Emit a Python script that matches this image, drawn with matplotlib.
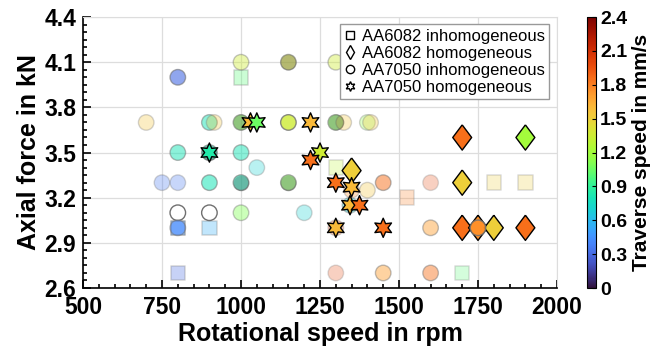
import numpy as np
import matplotlib
matplotlib.use("Agg")
import matplotlib.pyplot as plt
from matplotlib.lines import Line2D

plt.rcParams['font.family'] = ['Liberation Sans', 'DejaVu Sans']

# AA7050 inhomogeneous (circles)
circ_x = [800, 1000, 1150, 1300, 700, 900, 915, 1000, 1150, 1300, 1325, 1400, 1410,
          800, 900, 1000, 1050, 750, 800, 900, 1000, 1150, 1350, 1400, 1450, 1600,
          800, 900, 1000, 1200, 1345, 800, 1300, 1600, 1750, 1300, 1450, 1600]
circ_y = [4.0, 4.1, 4.1, 4.1, 3.7, 3.7, 3.7, 3.7, 3.7, 3.7, 3.7, 3.7, 3.7,
          3.5, 3.5, 3.5, 3.4, 3.3, 3.3, 3.3, 3.3, 3.3, 3.25, 3.25, 3.3, 3.3,
          3.1, 3.1, 3.1, 3.1, 3.15, 3.0, 3.0, 3.0, 3.0, 2.7, 2.7, 2.7]
circ_v = [0.3, 1.35, 1.4, 1.35, 1.55, 0.8, 1.55, 1.1, 1.35, 1.1, 1.55, 1.15, 1.55,
          0.8, 0.8, 0.8, 0.7, 0.35, 0.35, 0.8, 0.8, 1.1, 1.75, 1.55, 1.85, 2.0,
          np.nan, np.nan, 1.1, 0.7, 0.7, 0.4, 2.0, 1.7, 1.75, 2.0, 1.7, 1.85]
circ_a = [0.6, 0.4, 0.6, 0.4, 0.3, 0.5, 0.3, 0.6, 0.8, 0.6, 0.3, 0.3, 0.3,
          0.5, 0.6, 0.5, 0.3, 0.3, 0.3, 0.55, 0.6, 0.6, 0.3, 0.3, 0.5, 0.25,
          1.0, 1.0, 0.4, 0.3, 0.4, 0.5, 0.3, 0.45, 0.85, 0.25, 0.45, 0.45]
# circles that look darker (overlapping samples)
dark_x = [1150, 1000, 1300, 1000, 1150, 900]
dark_y = [4.1, 3.7, 3.7, 3.3, 3.3, 3.5]

# AA6082 inhomogeneous (squares)
sq_x = [1000, 1300, 1525, 1800, 1900, 1700, 800, 900, 800]
sq_y = [4.0, 3.4, 3.2, 3.3, 3.3, 2.7, 3.0, 3.0, 2.7]
sq_v = [1.0, 1.3, 1.8, 1.5, 1.5, 1.0, 0.45, 0.55, 0.3]
sq_a = [0.3, 0.25, 0.25, 0.25, 0.25, 0.25, 0.55, 0.3, 0.3]

# AA6082 homogeneous (diamonds)
dia_x = [1350, 1700, 1900, 1700, 1700, 1750, 1800, 1900]
dia_y = [3.38, 3.6, 3.6, 3.3, 3.0, 3.0, 3.0, 3.0]
dia_v = [1.5, 1.85, 1.2, 1.5, 1.85, 1.75, 1.5, 1.85]

# AA7050 homogeneous (stars)
star_x = [1030, 1050, 1220, 900, 1250, 1220, 1300, 1350, 1345, 1375, 1300, 1450]
star_y = [3.7, 3.7, 3.7, 3.5, 3.5, 3.45, 3.3, 3.27, 3.15, 3.15, 3.0, 3.0]
star_v = [1.6, 1.05, 1.6, 0.85, 1.35, 1.85, 1.85, 1.6, 1.6, 1.85, 1.6, 1.85]

cmap = matplotlib.colormaps['turbo'].copy()
cmap.set_bad('white')
norm = matplotlib.colors.Normalize(0, 2.4)

fig = plt.figure(figsize=(6.71, 3.56), dpi=100)
ax = fig.add_axes([0.1237, 0.191, 0.7064, 0.761])
cax = fig.add_axes([587 / 671, 0.191, 9 / 671, 0.761])

diamond = [(0, 1), (0.75, 0), (0, -1), (-0.75, 0), (0, 1)]
star6 = (6, 1, 0)

ax.scatter(sq_x, sq_y, c=sq_v, cmap=cmap, norm=norm, marker='s', s=110,
           alpha=sq_a, edgecolors='#808080', linewidths=1.2, zorder=2)
ax.scatter(dia_x, dia_y, c=dia_v, cmap=cmap, norm=norm, marker=diamond, s=330,
           edgecolors='black', linewidths=1.0, zorder=3)
ax.scatter(circ_x, circ_y, c=circ_v, cmap=cmap, norm=norm, marker='o', s=125,
           alpha=circ_a, edgecolors='#707070', linewidths=1.0, zorder=4,
           plotnonfinite=True)
ax.scatter(dark_x, dark_y, c='#404040', marker='o', s=125, alpha=0.3,
           linewidths=0, zorder=4)
ax.scatter(star_x, star_y, c=star_v, cmap=cmap, norm=norm, marker=star6, s=190,
           edgecolors='black', linewidths=1.0, zorder=5)

ax.set_xlim(500, 2000)
ax.set_ylim(2.6, 4.4)
ax.set_xticks(np.arange(500, 2001, 250))
ax.set_yticks([2.6, 2.9, 3.2, 3.5, 3.8, 4.1, 4.4])
ax.set_xticks(np.arange(500, 2001, 50), minor=True)
ax.set_yticks(np.arange(2.6, 4.401, 0.05), minor=True)
ax.tick_params(which='both', direction='in', top=False, right=False, width=1.2)
ax.tick_params(which='major', length=6, labelsize=16.5)
ax.tick_params(which='minor', length=3)
ax.tick_params(axis='x', pad=6)
ax.tick_params(axis='y', pad=5)
for lab in ax.get_xticklabels() + ax.get_yticklabels():
    lab.set_fontweight('bold')
ax.grid(True, color='#dddddd', linewidth=0.9, zorder=0)
ax.set_axisbelow(True)
for side in ['top', 'right']:
    ax.spines[side].set_color('#dddddd')
for side in ['left', 'bottom']:
    ax.spines[side].set_linewidth(1.2)
ax.set_xlabel('Rotational speed in rpm', fontsize=18, fontweight='bold', labelpad=2)
ax.set_ylabel('Axial force in kN', fontsize=18, fontweight='bold', labelpad=2)

handles = [Line2D([], [], ls='', marker='s', mfc='white', mec='black', ms=6),
           Line2D([], [], ls='', marker='d', mfc='white', mec='black', ms=7),
           Line2D([], [], ls='', marker='o', mfc='white', mec='black', ms=6),
           Line2D([], [], ls='', marker=star6, mfc='white', mec='black', ms=7)]
labels = ['AA6082 inhomogeneous', 'AA6082 homogeneous',
          'AA7050 inhomogeneous', 'AA7050 homogeneous']
leg = ax.legend(handles, labels, loc='upper right', bbox_to_anchor=(0.99, 0.985),
                fontsize=12, handlelength=0.7, handletextpad=0.35,
                labelspacing=0.12, borderpad=0.25, borderaxespad=0.2,
                fancybox=False, framealpha=1)
leg.get_frame().set_edgecolor('#999999')
leg.set_zorder(10)

cb = fig.colorbar(matplotlib.cm.ScalarMappable(norm=norm, cmap=cmap), cax=cax)
cb.set_ticks([0, 0.3, 0.6, 0.9, 1.2, 1.5, 1.8, 2.1, 2.4])
cb.set_ticklabels(['0', '0.3', '0.6', '0.9', '1.2', '1.5', '1.8', '2.1', '2.4'])
cb.ax.tick_params(direction='in', length=3, labelsize=14, pad=3)
for lab in cb.ax.get_yticklabels():
    lab.set_fontweight('bold')
cb.set_label('Traverse speed in mm/s', fontsize=15, fontweight='bold', labelpad=3)

fig.savefig('out.png', dpi=100)
